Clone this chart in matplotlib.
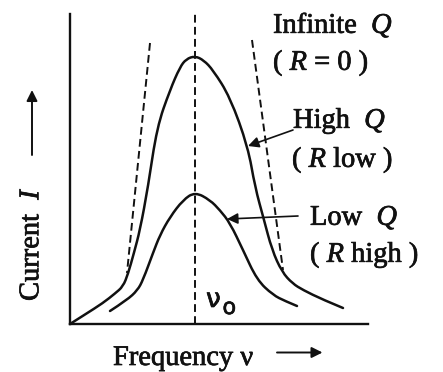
import matplotlib
matplotlib.use("Agg")
import matplotlib.pyplot as plt
import matplotlib.patheffects as pe
from matplotlib.path import Path
from matplotlib.patches import PathPatch

plt.rcParams["font.family"] = ["Liberation Serif", "DejaVu Serif"]
plt.rcParams["mathtext.fontset"] = "custom"
plt.rcParams["mathtext.rm"] = "Liberation Serif"
plt.rcParams["mathtext.it"] = "Liberation Serif:italic"

# Resonance curves (frequency, current) in arbitrary units; resonance at nu0 = 5
nu0 = 5.0
high_q_freq = [0.0, 0.6, 1.32, 1.8, 2.12, 2.32, 2.56, 2.80, 3.12, 3.48, 4.00, 4.40, 4.65, 5.00,
               5.35, 5.72, 6.40, 7.12, 7.40, 7.75, 8.08, 8.48, 8.90, 9.32, 10.1, 10.92]
high_q_curr = [0.0, 0.38, 0.84, 1.22, 1.50, 2.00, 2.85, 3.76, 5.48, 7.88, 9.36, 10.28, 10.60, 10.72,
               10.55, 10.16, 9.08, 7.08, 5.48, 4.20, 2.96, 2.08, 1.62, 1.36, 0.98, 0.64]
low_q_freq = [1.60, 2.28, 2.70, 2.92, 3.32, 3.60, 4.00, 4.52, 5.00, 5.60, 6.00, 6.40, 6.92,
              7.48, 8.12, 8.60, 9.08]
low_q_curr = [0.52, 0.96, 1.35, 1.76, 2.84, 3.56, 4.28, 4.96, 5.28, 4.96, 4.55, 4.04, 2.96,
              1.76, 1.16, 0.92, 0.72]
# Infinite-Q asymptotes
inf_left_freq = [3.20, 2.28]
inf_left_curr = [11.24, 2.04]
inf_right_freq = [7.28, 8.52]
inf_right_curr = [11.36, 2.16]

ink = "#111111"


def smooth_curve(ax, xs, ys, **kw):
    """Draw a rounded curve through the given points using quadratic Bezier segments."""
    pts = list(zip(xs, ys))
    verts = [pts[0]]
    codes = [Path.MOVETO]
    for i in range(1, len(pts) - 1):
        mid = ((pts[i][0] + pts[i + 1][0]) / 2, (pts[i][1] + pts[i + 1][1]) / 2)
        if i == len(pts) - 2:
            mid = pts[-1]
        verts += [pts[i], mid]
        codes += [Path.CURVE3, Path.CURVE3]
    patch = PathPatch(Path(verts, codes), facecolor="none", transform=ax.transData, **kw)
    ax.add_patch(patch)


fig = plt.figure(figsize=(4.43, 3.72), dpi=100)
fig.patch.set_facecolor("white")
ax = fig.add_axes([70 / 443, 1 - 324 / 372, 298 / 443, 310 / 372])
ax.set_xlim(0, 11.92)
ax.set_ylim(0, 12.4)
for side in ("top", "right"):
    ax.spines[side].set_visible(False)
for side in ("left", "bottom"):
    ax.spines[side].set_linewidth(1.7)
    ax.spines[side].set_color(ink)
ax.set_xticks([])
ax.set_yticks([])
ax.patch.set_alpha(0)

dash = (0, (4, 2.2))
smooth_curve(ax, high_q_freq, high_q_curr, edgecolor=ink, lw=1.8, capstyle="round",
             joinstyle="round", clip_on=False)
smooth_curve(ax, low_q_freq, low_q_curr, edgecolor=ink, lw=1.8, capstyle="round",
             joinstyle="round", clip_on=False)
ax.plot(inf_left_freq, inf_left_curr, color=ink, lw=1.4, linestyle=dash)
ax.plot(inf_right_freq, inf_right_curr, color=ink, lw=1.4, linestyle=dash)
ax.plot([nu0, nu0], [0, 12.4], color=ink, lw=1.4, linestyle=dash, clip_on=False)

fs = 20.5
heavy = [pe.withStroke(linewidth=0.5, foreground=ink)]
labels = [
    (8.12, 11.64, "Infinite  $Q$"),
    (8.12, 10.16, "( $R$ = 0 )"),
    (8.92, 7.84, "High  $Q$"),
    (8.88, 6.28, "( $R$ low )"),
    (9.60, 3.96, "Low  $Q$"),
    (9.60, 2.48, "( $R$ high )"),
]
for x, y, s in labels:
    ax.text(x, y, s, fontsize=fs, color=ink, va="baseline", ha="left", path_effects=heavy)

arrow = dict(arrowstyle="-|>", color=ink, lw=1.2, mutation_scale=16, shrinkA=0, shrinkB=0)
ax.annotate("", xy=(7.12, 7.12), xytext=(8.92, 7.76), arrowprops=arrow)
ax.annotate("", xy=(6.28, 4.20), xytext=(9.12, 4.32), arrowprops=arrow)

# resonance frequency label
ax.text(5.44, 0.68, "ν", fontsize=19, color=ink, family="DejaVu Sans", va="baseline",
        path_effects=heavy)
ax.text(6.10, 0.40, "o", fontsize=16, color=ink, family="DejaVu Sans", va="baseline",
        path_effects=heavy)

# axis titles with direction arrows
ax.text(1.72, -1.64, "Frequency ν", fontsize=fs, color=ink, va="baseline", ha="left",
        clip_on=False, path_effects=heavy)
axis_arrow = dict(arrowstyle="-|>", color=ink, lw=1.4, mutation_scale=16, shrinkA=0, shrinkB=0)
ax.annotate("", xy=(10.10, -1.14), xytext=(8.28, -1.14), xycoords="data",
            arrowprops=axis_arrow, annotation_clip=False)
fig.text(32 / 443, 1 - 244 / 372, "Current  $I$", fontsize=fs, color=ink, rotation=90,
         ha="center", va="center", path_effects=heavy)
ax.annotate("", xy=(32 / 443, 1 - 90 / 372), xytext=(32 / 443, 1 - 155 / 372),
            xycoords="figure fraction", textcoords="figure fraction",
            arrowprops=axis_arrow, annotation_clip=False)

fig.savefig("out.png", dpi=100, facecolor="white")
